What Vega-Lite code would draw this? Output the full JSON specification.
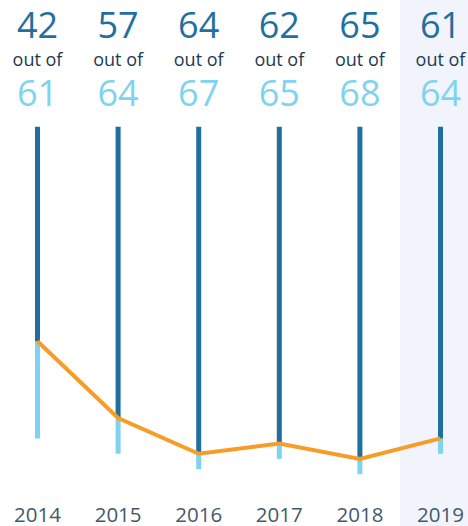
{
  "$schema": "https://vega.github.io/schema/vega-lite/v6.json",
  "width": 468,
  "height": 526,
  "padding": 0,
  "autosize": {"type": "none"},
  "background": "white",
  "config": {"view": {"stroke": null}, "font": "Open Sans"},
  "data": {
    "values": [
      {"year": "2014", "done": 42, "total": 61},
      {"year": "2015", "done": 57, "total": 64},
      {"year": "2016", "done": 64, "total": 67},
      {"year": "2017", "done": 62, "total": 65},
      {"year": "2018", "done": 65, "total": 68},
      {"year": "2019", "done": 61, "total": 64}
    ]
  },
  "encoding": {
    "x": {
      "field": "year",
      "type": "ordinal",
      "scale": {"type": "band", "range": [-2.8, 480.8], "paddingInner": 0, "paddingOuter": 0},
      "axis": {
        "orient": "bottom",
        "title": null,
        "domain": false,
        "ticks": false,
        "tickSize": 0,
        "grid": false,
        "labelPadding": 0,
        "offset": -5,
        "labelBaseline": "alphabetic",
        "labelAngle": 0,
        "labelFont": "Open Sans",
        "labelFontSize": 20.5,
        "labelColor": "#44596a",
        "zindex": 1
      }
    }
  },
  "layer": [
    {
      "transform": [{"filter": "datum.year == '2019'"}],
      "mark": {"type": "rect", "color": "#f1f5fb", "clip": true}
    },
    {
      "layer": [
        {
          "mark": {"type": "rule", "color": "#7ed3f0", "strokeWidth": 5, "strokeCap": "butt"},
          "encoding": {
            "y": {"field": "done", "type": "quantitative", "scale": {"domain": [0, 78.14], "range": [126.7, 526]}, "axis": null},
            "y2": {"field": "total"}
          }
        },
        {
          "mark": {"type": "rule", "color": "#1f6f9f", "strokeWidth": 5, "strokeCap": "butt"},
          "encoding": {
            "y": {"field": "done", "type": "quantitative", "scale": {"domain": [0, 78.14], "range": [126.7, 526]}, "axis": null},
            "y2": {"datum": 0}
          }
        },
        {
          "mark": {"type": "line", "color": "#f79c26", "strokeWidth": 4},
          "encoding": {
            "y": {"field": "done", "type": "quantitative", "scale": {"domain": [0, 78.14], "range": [126.7, 526]}, "axis": null}
          }
        }
      ]
    },
    {
      "layer": [
        {
          "mark": {"type": "text", "fontSize": 36, "color": "#1f6f9f", "baseline": "middle", "align": "center"},
          "encoding": {
            "y": {"datum": "done", "type": "ordinal", "scale": {"type": "point", "domain": ["done", "outof", "total"], "range": [27, 95], "padding": 0}, "axis": null},
            "text": {"field": "done"}
          }
        },
        {
          "mark": {"type": "text", "fontSize": 18, "color": "#1b3a54", "baseline": "middle", "align": "center"},
          "encoding": {
            "y": {"datum": "outof", "type": "ordinal", "scale": {"type": "point", "domain": ["done", "outof", "total"], "range": [27, 95], "padding": 0}, "axis": null},
            "text": {"value": "out of"}
          }
        },
        {
          "mark": {"type": "text", "fontSize": 36, "color": "#7ed3f0", "baseline": "middle", "align": "center"},
          "encoding": {
            "y": {"datum": "total", "type": "ordinal", "scale": {"type": "point", "domain": ["done", "outof", "total"], "range": [27, 95], "padding": 0}, "axis": null},
            "text": {"field": "total"}
          }
        }
      ]
    }
  ],
  "resolve": {"scale": {"y": "independent"}}
}
